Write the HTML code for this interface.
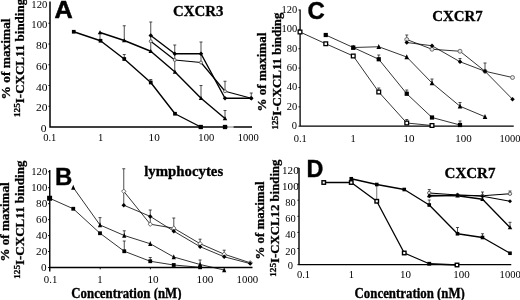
<!DOCTYPE html>
<html><head><meta charset="utf-8"><title>Figure</title>
<style>
html,body{margin:0;padding:0;background:#fff;}
body{width:520px;height:300px;overflow:hidden;}
svg{display:block;filter:blur(0.35px);}
text{fill:#000;}
</style></head><body>
<svg width="520" height="300" viewBox="0 0 520 300">
<rect width="520" height="300" fill="#fff"/>
<path d="M50 1.5V127H252" stroke="#000" stroke-width="1.5" fill="none"/>
<path d="M227.5 127H233.5" stroke="#fff" stroke-width="2.2" fill="none"/><path d="M227 127H234" stroke="#666" stroke-width="0.9" fill="none"/>
<text transform="translate(47.4,7.499999999999986) scale(1.07,1.0)" font-size="10" font-weight="normal" text-anchor="end" font-family='"Liberation Serif", serif' >120</text>
<text transform="translate(47.4,28.249999999999986) scale(1.07,1.0)" font-size="10" font-weight="normal" text-anchor="end" font-family='"Liberation Serif", serif' >100</text>
<text transform="translate(47.4,49.0) scale(1.15,1.0)" font-size="10" font-weight="normal" text-anchor="end" font-family='"Liberation Serif", serif' >80</text>
<text transform="translate(47.4,69.75) scale(1.15,1.0)" font-size="10" font-weight="normal" text-anchor="end" font-family='"Liberation Serif", serif' >60</text>
<text transform="translate(47.4,90.5) scale(1.15,1.0)" font-size="10" font-weight="normal" text-anchor="end" font-family='"Liberation Serif", serif' >40</text>
<text transform="translate(47.4,111.25) scale(1.15,1.0)" font-size="10" font-weight="normal" text-anchor="end" font-family='"Liberation Serif", serif' >20</text>
<text transform="translate(46.4,132.0) scale(1.15,1.0)" font-size="10" font-weight="normal" text-anchor="end" font-family='"Liberation Serif", serif' >0</text>
<text transform="translate(49.8,141) scale(1.06,1.0)" font-size="10" font-weight="normal" text-anchor="middle" font-family='"Liberation Serif", serif' >0.1</text>
<text transform="translate(100.7,141) scale(1.06,1.0)" font-size="10" font-weight="normal" text-anchor="middle" font-family='"Liberation Serif", serif' >1</text>
<text transform="translate(154.2,141) scale(1.12,1.0)" font-size="10" font-weight="normal" text-anchor="middle" font-family='"Liberation Serif", serif' >10</text>
<text transform="translate(206.3,141) scale(1.06,1.0)" font-size="10" font-weight="normal" text-anchor="middle" font-family='"Liberation Serif", serif' >100</text>
<text transform="translate(248.25,141) scale(1.06,1.0)" font-size="10" font-weight="normal" text-anchor="middle" font-family='"Liberation Serif", serif' >1000</text>
<path d="M48.3 23.25H50" stroke="#000" stroke-width="0.8"/>
<path d="M48.3 44.00H50" stroke="#000" stroke-width="0.8"/>
<path d="M48.3 64.75H50" stroke="#000" stroke-width="0.8"/>
<path d="M48.3 85.50H50" stroke="#000" stroke-width="0.8"/>
<path d="M48.3 106.25H50" stroke="#000" stroke-width="0.8"/>
<text transform="translate(10,99.5) rotate(-90) scale(1,1.0)" font-size="13.4" font-weight="bold" stroke="#000" stroke-width="0.3" font-family='"Liberation Serif", serif'>% of maximal</text>
<text transform="translate(23.5,117) rotate(-90) scale(1,1.0)" font-size="13.0" font-weight="bold" stroke="#000" stroke-width="0.3" font-family='"Liberation Serif", serif'><tspan font-size="9.2" dy="-3.6">125</tspan><tspan dy="3.6">I-CXCL11 binding</tspan></text>
<text transform="translate(54.6,18.2) scale(1.06,1.0)" font-size="23.8" font-weight="bold" text-anchor="start" font-family='"Liberation Sans", sans-serif' stroke="#000" stroke-width="0.55" stroke-linejoin="miter">A</text>
<text transform="translate(198.2,16) scale(1.02,1.0)" font-size="14.6" font-weight="bold" text-anchor="middle" font-family='"Liberation Serif", serif' stroke="#000" stroke-width="0.3">CXCR3</text>
<path d="M124.25 59.00V54.50M122.75 54.50H125.75" stroke="#222" stroke-width="0.8" fill="none"/>
<path d="M150.75 82.50V79.50M149.25 79.50H152.25" stroke="#222" stroke-width="0.8" fill="none"/>
<path d="M100.00 32.50V40.75M100.00 40.75H100.00" stroke="#222" stroke-width="0.8" fill="none"/>
<path d="M124.25 40.50V25.75M122.75 25.75H125.75" stroke="#222" stroke-width="0.8" fill="none"/>
<path d="M201.00 98.25V85.50M199.50 85.50H202.50" stroke="#222" stroke-width="0.8" fill="none"/>
<path d="M225.00 118.50V110.50M223.50 110.50H226.50" stroke="#222" stroke-width="0.8" fill="none"/>
<path d="M150.75 51.25V22.00M149.25 22.00H152.25" stroke="#222" stroke-width="0.8" fill="none"/>
<path d="M174.75 72.50V45.00M173.25 45.00H176.25" stroke="#222" stroke-width="0.8" fill="none"/>
<path d="M201.00 62.50V42.00M199.50 42.00H202.50" stroke="#222" stroke-width="0.8" fill="none"/>
<path d="M225.00 91.25V81.25M223.50 81.25H226.50" stroke="#222" stroke-width="0.8" fill="none"/>
<path d="M251.25 98.25V93.00M249.75 93.00H252.75" stroke="#222" stroke-width="0.8" fill="none"/>
<polyline points="150.75,41.25 174.75,60.00 201.00,62.50 225.00,91.25 251.25,98.25" fill="none" stroke="#000" stroke-width="1.2" stroke-linejoin="round"/>
<circle cx="150.75" cy="41.25" r="1.5" fill="#e8e8e8" stroke="#555" stroke-width="0.9"/>
<circle cx="174.75" cy="60.00" r="1.5" fill="#e8e8e8" stroke="#555" stroke-width="0.9"/>
<circle cx="201.00" cy="62.50" r="1.5" fill="#e8e8e8" stroke="#555" stroke-width="0.9"/>
<circle cx="225.00" cy="91.25" r="1.5" fill="#e8e8e8" stroke="#555" stroke-width="0.9"/>
<circle cx="251.25" cy="98.25" r="1.5" fill="#e8e8e8" stroke="#555" stroke-width="0.9"/>
<polyline points="150.75,35.50 174.75,53.75 201.00,53.75 225.00,98.25 251.25,98.25" fill="none" stroke="#000" stroke-width="1.4" stroke-linejoin="round"/>
<polygon points="150.75,33.25 153.00,35.50 150.75,37.75 148.50,35.50" fill="#000"/>
<polygon points="174.75,51.50 177.00,53.75 174.75,56.00 172.50,53.75" fill="#000"/>
<polygon points="201.00,51.50 203.25,53.75 201.00,56.00 198.75,53.75" fill="#000"/>
<polygon points="225.00,96.00 227.25,98.25 225.00,100.50 222.75,98.25" fill="#000"/>
<polygon points="251.25,96.00 253.50,98.25 251.25,100.50 249.00,98.25" fill="#000"/>
<polyline points="100.00,32.50 124.25,40.50 150.75,51.25 175.00,72.00 201.00,98.25 225.00,118.50" fill="none" stroke="#000" stroke-width="1.4" stroke-linejoin="round"/>
<polygon points="100.00,30.25 102.25,34.30 97.75,34.30" fill="#000"/>
<polygon points="124.25,38.25 126.50,42.30 122.00,42.30" fill="#000"/>
<polygon points="150.75,49.00 153.00,53.05 148.50,53.05" fill="#000"/>
<polygon points="175.00,69.75 177.25,73.80 172.75,73.80" fill="#000"/>
<polygon points="201.00,96.00 203.25,100.05 198.75,100.05" fill="#000"/>
<polygon points="225.00,116.25 227.25,120.30 222.75,120.30" fill="#000"/>
<polyline points="73.75,31.75 100.50,40.75 124.25,59.00 150.75,82.50 175.00,113.75 200.75,127.00" fill="none" stroke="#000" stroke-width="1.4" stroke-linejoin="round"/>
<rect x="71.90" y="29.90" width="3.7" height="3.7" fill="#000"/>
<rect x="98.65" y="38.90" width="3.7" height="3.7" fill="#000"/>
<rect x="122.40" y="57.15" width="3.7" height="3.7" fill="#000"/>
<rect x="148.90" y="80.65" width="3.7" height="3.7" fill="#000"/>
<rect x="173.15" y="111.90" width="3.7" height="3.7" fill="#000"/>
<rect x="198.60" y="124.85" width="4.3" height="4.3" fill="#000"/>
<rect x="222.85" y="124.85" width="4.3" height="4.3" fill="#000"/>
<path d="M300.1 9.5V126.2H513.75" stroke="#000" stroke-width="1.3" fill="none"/>
<text transform="translate(297.2,13.003999999999976) scale(1.05,1.0)" font-size="10" font-weight="normal" text-anchor="end" font-family='"Liberation Serif", serif' >120</text>
<text transform="translate(297.2,32.36999999999999) scale(1.05,1.0)" font-size="10" font-weight="normal" text-anchor="end" font-family='"Liberation Serif", serif' >100</text>
<text transform="translate(297.2,51.73599999999999) scale(1.05,1.0)" font-size="10" font-weight="normal" text-anchor="end" font-family='"Liberation Serif", serif' >80</text>
<text transform="translate(297.2,71.10199999999998) scale(1.05,1.0)" font-size="10" font-weight="normal" text-anchor="end" font-family='"Liberation Serif", serif' >60</text>
<text transform="translate(297.2,90.46799999999999) scale(1.05,1.0)" font-size="10" font-weight="normal" text-anchor="end" font-family='"Liberation Serif", serif' >40</text>
<text transform="translate(297.2,109.83399999999999) scale(1.05,1.0)" font-size="10" font-weight="normal" text-anchor="end" font-family='"Liberation Serif", serif' >20</text>
<text transform="translate(297.0,129.2) scale(1.05,1.0)" font-size="10" font-weight="normal" text-anchor="end" font-family='"Liberation Serif", serif' >0</text>
<text transform="translate(300.25,142) scale(1.05,1.0)" font-size="10" font-weight="normal" text-anchor="middle" font-family='"Liberation Serif", serif' >0.1</text>
<text transform="translate(353,142) scale(1.05,1.0)" font-size="10" font-weight="normal" text-anchor="middle" font-family='"Liberation Serif", serif' >1</text>
<text transform="translate(409,142) scale(1.1,1.0)" font-size="10" font-weight="normal" text-anchor="middle" font-family='"Liberation Serif", serif' >10</text>
<text transform="translate(463.4,142) scale(1.1,1.0)" font-size="10" font-weight="normal" text-anchor="middle" font-family='"Liberation Serif", serif' >100</text>
<text transform="translate(509.9,142) scale(1.05,1.0)" font-size="10" font-weight="normal" text-anchor="middle" font-family='"Liberation Serif", serif' >1000</text>
<path d="M298.4 10.00H300.1" stroke="#000" stroke-width="0.8"/>
<path d="M298.4 29.37H300.1" stroke="#000" stroke-width="0.8"/>
<path d="M298.4 48.74H300.1" stroke="#000" stroke-width="0.8"/>
<path d="M298.4 68.10H300.1" stroke="#000" stroke-width="0.8"/>
<path d="M298.4 87.47H300.1" stroke="#000" stroke-width="0.8"/>
<path d="M298.4 106.83H300.1" stroke="#000" stroke-width="0.8"/>
<path d="M298.4 126.20H300.1" stroke="#000" stroke-width="0.8"/>
<text transform="translate(265.5,111.4) rotate(-90) scale(1,1.0)" font-size="13.0" font-weight="bold" stroke="#000" stroke-width="0.3" font-family='"Liberation Serif", serif'>% of maximal</text>
<text transform="translate(281.3,129.6) rotate(-90) scale(1,1.0)" font-size="12.87" font-weight="bold" stroke="#000" stroke-width="0.3" font-family='"Liberation Serif", serif'><tspan font-size="9.2" dy="-3.6">125</tspan><tspan dy="3.6">I-CXCL11 binding</tspan></text>
<text transform="translate(307.6,18.6) scale(1.01,1.0)" font-size="23.8" font-weight="bold" text-anchor="start" font-family='"Liberation Sans", sans-serif' stroke="#000" stroke-width="0.4">C</text>
<text transform="translate(457.5,20.5) scale(1.02,1.0)" font-size="14.6" font-weight="bold" text-anchor="middle" font-family='"Liberation Serif", serif' stroke="#000" stroke-width="0.3">CXCR7</text>
<path d="M406.75 39.50V35.00M405.25 35.00H408.25" stroke="#222" stroke-width="0.8" fill="none"/>
<path d="M460.00 61.75V58.50M458.50 58.50H461.50" stroke="#222" stroke-width="0.8" fill="none"/>
<path d="M485.00 71.25V63.00M483.50 63.00H486.50" stroke="#222" stroke-width="0.8" fill="none"/>
<path d="M378.75 59.25V55.00M377.25 55.00H380.25" stroke="#222" stroke-width="0.8" fill="none"/>
<path d="M406.75 93.75V90.00M405.25 90.00H408.25" stroke="#222" stroke-width="0.8" fill="none"/>
<path d="M432.00 83.00V79.00M430.50 79.00H433.50" stroke="#222" stroke-width="0.8" fill="none"/>
<path d="M460.00 106.25V102.50M458.50 102.50H461.50" stroke="#222" stroke-width="0.8" fill="none"/>
<path d="M378.75 92.00V88.00M377.25 88.00H380.25" stroke="#222" stroke-width="0.8" fill="none"/>
<path d="M406.75 123.00V119.50M405.25 119.50H408.25" stroke="#222" stroke-width="0.8" fill="none"/>
<path d="M460.00 125.00V121.00M458.50 121.00H461.50" stroke="#222" stroke-width="0.8" fill="none"/>
<polyline points="406.75,39.50 432.00,49.25 460.00,51.25 485.00,71.25 512.50,77.50" fill="none" stroke="#000" stroke-width="0.8" stroke-linejoin="round"/>
<circle cx="406.75" cy="39.50" r="2.0" fill="#e4e4e4" stroke="#555" stroke-width="0.8"/>
<circle cx="432.00" cy="49.25" r="2.0" fill="#e4e4e4" stroke="#555" stroke-width="0.8"/>
<circle cx="460.00" cy="51.25" r="2.0" fill="#e4e4e4" stroke="#555" stroke-width="0.8"/>
<circle cx="485.00" cy="71.25" r="2.0" fill="#e4e4e4" stroke="#555" stroke-width="0.8"/>
<circle cx="512.50" cy="77.50" r="2.0" fill="#e4e4e4" stroke="#555" stroke-width="0.8"/>
<polyline points="406.75,42.50 432.00,45.75 460.00,61.75 485.00,71.25 512.50,99.25" fill="none" stroke="#000" stroke-width="0.8" stroke-linejoin="round"/>
<polygon points="406.75,40.25 409.00,42.50 406.75,44.75 404.50,42.50" fill="#000"/>
<polygon points="432.00,43.50 434.25,45.75 432.00,48.00 429.75,45.75" fill="#000"/>
<polygon points="460.00,59.50 462.25,61.75 460.00,64.00 457.75,61.75" fill="#000"/>
<polygon points="485.00,69.00 487.25,71.25 485.00,73.50 482.75,71.25" fill="#000"/>
<polygon points="512.50,97.00 514.75,99.25 512.50,101.50 510.25,99.25" fill="#000"/>
<polyline points="325.75,35.00 353.25,47.50 378.75,59.25 406.75,93.75 432.00,117.50 460.00,125.00" fill="none" stroke="#000" stroke-width="0.8" stroke-linejoin="round"/>
<rect x="323.65" y="32.90" width="4.2" height="4.2" fill="#000"/>
<rect x="351.15" y="45.40" width="4.2" height="4.2" fill="#000"/>
<rect x="376.65" y="57.15" width="4.2" height="4.2" fill="#000"/>
<rect x="404.65" y="91.65" width="4.2" height="4.2" fill="#000"/>
<rect x="429.90" y="115.40" width="4.2" height="4.2" fill="#000"/>
<rect x="457.90" y="122.90" width="4.2" height="4.2" fill="#000"/>
<polyline points="353.25,47.50 378.75,46.75 406.75,57.00 432.00,83.00 460.00,106.25 485.00,116.75" fill="none" stroke="#000" stroke-width="0.8" stroke-linejoin="round"/>
<polygon points="353.25,44.75 355.55,49.75 350.95,49.75" fill="#000"/>
<polygon points="378.75,44.00 381.05,49.00 376.45,49.00" fill="#000"/>
<polygon points="406.75,54.25 409.05,59.25 404.45,59.25" fill="#000"/>
<polygon points="432.00,80.25 434.30,85.25 429.70,85.25" fill="#000"/>
<polygon points="460.00,103.50 462.30,108.50 457.70,108.50" fill="#000"/>
<polygon points="485.00,114.00 487.30,119.00 482.70,119.00" fill="#000"/>
<polyline points="300.00,32.00 325.75,43.75 353.25,56.00 378.75,92.00 406.75,123.00 432.00,125.50" fill="none" stroke="#000" stroke-width="0.8" stroke-linejoin="round"/>
<rect x="298.15" y="30.15" width="3.7" height="3.7" fill="#fff" stroke="#000" stroke-width="1.3"/>
<rect x="323.90" y="41.90" width="3.7" height="3.7" fill="#fff" stroke="#000" stroke-width="1.3"/>
<rect x="351.40" y="54.15" width="3.7" height="3.7" fill="#fff" stroke="#000" stroke-width="1.3"/>
<rect x="376.90" y="90.15" width="3.7" height="3.7" fill="#fff" stroke="#000" stroke-width="1.3"/>
<rect x="404.90" y="121.15" width="3.7" height="3.7" fill="#fff" stroke="#000" stroke-width="1.3"/>
<rect x="430.15" y="123.65" width="3.7" height="3.7" fill="#fff" stroke="#000" stroke-width="1.3"/>
<path d="M49.75 170V271.5M49.75 267.5H252.5" stroke="#000" stroke-width="1.4" fill="none"/>
<text transform="translate(47.3,175.04000000000002) scale(1.07,1.0)" font-size="10" font-weight="normal" text-anchor="end" font-family='"Liberation Serif", serif' >120</text>
<path d="M48 171.74H49.75" stroke="#000" stroke-width="0.9"/>
<text transform="translate(47.3,191.0) scale(1.07,1.0)" font-size="10" font-weight="normal" text-anchor="end" font-family='"Liberation Serif", serif' >100</text>
<path d="M48 187.70H49.75" stroke="#000" stroke-width="0.9"/>
<text transform="translate(47.3,206.96) scale(1.12,1.0)" font-size="10" font-weight="normal" text-anchor="end" font-family='"Liberation Serif", serif' >80</text>
<path d="M48 203.66H49.75" stroke="#000" stroke-width="0.9"/>
<text transform="translate(47.3,222.92000000000002) scale(1.12,1.0)" font-size="10" font-weight="normal" text-anchor="end" font-family='"Liberation Serif", serif' >60</text>
<path d="M48 219.62H49.75" stroke="#000" stroke-width="0.9"/>
<text transform="translate(47.3,238.88) scale(1.12,1.0)" font-size="10" font-weight="normal" text-anchor="end" font-family='"Liberation Serif", serif' >40</text>
<path d="M48 235.58H49.75" stroke="#000" stroke-width="0.9"/>
<text transform="translate(47.3,254.84) scale(1.12,1.0)" font-size="10" font-weight="normal" text-anchor="end" font-family='"Liberation Serif", serif' >20</text>
<path d="M48 251.54H49.75" stroke="#000" stroke-width="0.9"/>
<text transform="translate(46.6,270.8) scale(1.12,1.0)" font-size="10" font-weight="normal" text-anchor="end" font-family='"Liberation Serif", serif' >0</text>
<path d="M48 267.50H49.75" stroke="#000" stroke-width="0.9"/>
<text transform="translate(50.6,283) scale(1.08,1.0)" font-size="10" font-weight="normal" text-anchor="middle" font-family='"Liberation Serif", serif' >0.1</text>
<text transform="translate(100.0,283) scale(1.08,1.0)" font-size="10" font-weight="normal" text-anchor="middle" font-family='"Liberation Serif", serif' >1</text>
<text transform="translate(153.1,283) scale(1.12,1.0)" font-size="10" font-weight="normal" text-anchor="middle" font-family='"Liberation Serif", serif' >10</text>
<text transform="translate(205,283) scale(1.12,1.0)" font-size="10" font-weight="normal" text-anchor="middle" font-family='"Liberation Serif", serif' >100</text>
<text transform="translate(247.4,283) scale(1.08,1.0)" font-size="10" font-weight="normal" text-anchor="middle" font-family='"Liberation Serif", serif' >1000</text>
<path d="M100.2 267.5V269.3" stroke="#000" stroke-width="0.9"/>
<path d="M150.4 267.5V269.3" stroke="#000" stroke-width="0.9"/>
<text transform="translate(8.7,261.6) rotate(-90) scale(1,1.0)" font-size="13.1" font-weight="bold" stroke="#000" stroke-width="0.3" font-family='"Liberation Serif", serif'>% of maximal</text>
<text transform="translate(23.5,278.8) rotate(-90) scale(1,1.0)" font-size="13.0" font-weight="bold" stroke="#000" stroke-width="0.3" font-family='"Liberation Serif", serif'><tspan font-size="9.2" dy="-3.6">125</tspan><tspan dy="3.6">I-CXCL11 binding</tspan></text>
<text transform="translate(55.0,185.2) scale(0.97,1.0)" font-size="24.7" font-weight="bold" text-anchor="start" font-family='"Liberation Sans", sans-serif' stroke="#000" stroke-width="0.4">B</text>
<text transform="translate(183.7,176) scale(1.0,1.0)" font-size="14.8" font-weight="bold" text-anchor="middle" font-family='"Liberation Serif", serif' stroke="#000" stroke-width="0.3">lymphocytes</text>
<text transform="translate(126.4,297.6) scale(1.0,1.06)" font-size="12.85" font-weight="bold" text-anchor="middle" font-family='"Liberation Serif", serif' stroke="#000" stroke-width="0.3">Concentration (nM)</text>
<path d="M123.75 205.00V168.75M122.25 168.75H125.25" stroke="#222" stroke-width="0.8" fill="none"/>
<path d="M150.25 224.00V210.00M148.75 210.00H151.75" stroke="#222" stroke-width="0.8" fill="none"/>
<path d="M173.80 228.00V218.00M172.30 218.00H175.30" stroke="#222" stroke-width="0.8" fill="none"/>
<path d="M200.10 243.00V239.20M198.60 239.20H201.60" stroke="#222" stroke-width="0.8" fill="none"/>
<path d="M224.20 254.00V250.20M222.70 250.20H225.70" stroke="#222" stroke-width="0.8" fill="none"/>
<path d="M100.00 225.00V217.60M98.50 217.60H101.50" stroke="#222" stroke-width="0.8" fill="none"/>
<path d="M124.25 235.50V230.80M122.75 230.80H125.75" stroke="#222" stroke-width="0.8" fill="none"/>
<path d="M124.25 251.25V241.00M122.75 241.00H125.75" stroke="#222" stroke-width="0.8" fill="none"/>
<path d="M150.25 261.25V257.50M148.75 257.50H151.75" stroke="#222" stroke-width="0.8" fill="none"/>
<path d="M200.10 263.75V260.00M198.60 260.00H201.60" stroke="#222" stroke-width="0.8" fill="none"/>
<polyline points="123.75,191.25 150.25,224.20 173.80,228.20 200.10,243.70 224.20,254.20 250.20,262.80" fill="none" stroke="#000" stroke-width="0.8" stroke-linejoin="round"/>
<polygon points="123.75,189.05 125.95,191.25 123.75,193.45 121.55,191.25" fill="#fff" stroke="#444" stroke-width="0.8"/>
<polygon points="150.25,222.00 152.45,224.20 150.25,226.40 148.05,224.20" fill="#fff" stroke="#444" stroke-width="0.8"/>
<polygon points="173.80,226.00 176.00,228.20 173.80,230.40 171.60,228.20" fill="#fff" stroke="#444" stroke-width="0.8"/>
<polygon points="200.10,241.50 202.30,243.70 200.10,245.90 197.90,243.70" fill="#fff" stroke="#444" stroke-width="0.8"/>
<polygon points="224.20,252.00 226.40,254.20 224.20,256.40 222.00,254.20" fill="#fff" stroke="#444" stroke-width="0.8"/>
<polygon points="250.20,260.60 252.40,262.80 250.20,265.00 248.00,262.80" fill="#fff" stroke="#444" stroke-width="0.8"/>
<polyline points="123.75,205.20 150.25,216.40 173.80,231.20 200.10,246.70 224.20,256.80 250.20,263.60" fill="none" stroke="#000" stroke-width="0.8" stroke-linejoin="round"/>
<polygon points="123.75,202.95 126.00,205.20 123.75,207.45 121.50,205.20" fill="#000"/>
<polygon points="150.25,214.15 152.50,216.40 150.25,218.65 148.00,216.40" fill="#000"/>
<polygon points="173.80,228.95 176.05,231.20 173.80,233.45 171.55,231.20" fill="#000"/>
<polygon points="200.10,244.45 202.35,246.70 200.10,248.95 197.85,246.70" fill="#000"/>
<polygon points="224.20,254.55 226.45,256.80 224.20,259.05 221.95,256.80" fill="#000"/>
<polygon points="250.20,261.35 252.45,263.60 250.20,265.85 247.95,263.60" fill="#000"/>
<polyline points="73.25,187.50 100.00,225.00 124.25,235.50 150.25,243.75 173.75,257.00 200.10,264.50 224.20,270.00" fill="none" stroke="#000" stroke-width="0.8" stroke-linejoin="round"/>
<polygon points="73.25,184.86 75.35,189.66 71.15,189.66" fill="#000"/>
<polygon points="100.00,222.36 102.10,227.16 97.90,227.16" fill="#000"/>
<polygon points="124.25,232.86 126.35,237.66 122.15,237.66" fill="#000"/>
<polygon points="150.25,241.11 152.35,245.91 148.15,245.91" fill="#000"/>
<polygon points="173.75,254.36 175.85,259.16 171.65,259.16" fill="#000"/>
<polygon points="200.10,261.86 202.20,266.66 198.00,266.66" fill="#000"/>
<polygon points="224.20,267.36 226.30,272.16 222.10,272.16" fill="#000"/>
<polyline points="49.60,198.25 73.25,208.75 100.00,233.25 124.25,251.25 150.25,261.25 173.75,265.00 200.10,267.30" fill="none" stroke="#000" stroke-width="0.8" stroke-linejoin="round"/>
<rect x="47.10" y="195.75" width="5" height="5" fill="#000"/>
<rect x="71.35" y="206.85" width="3.8" height="3.8" fill="#000"/>
<rect x="98.10" y="231.35" width="3.8" height="3.8" fill="#000"/>
<rect x="122.35" y="249.35" width="3.8" height="3.8" fill="#000"/>
<rect x="148.35" y="259.35" width="3.8" height="3.8" fill="#000"/>
<rect x="171.85" y="263.10" width="3.8" height="3.8" fill="#000"/>
<rect x="198.20" y="265.40" width="3.8" height="3.8" fill="#000"/>
<path d="M299 168V264.6H511.25" stroke="#000" stroke-width="1.4" fill="none"/>
<text transform="translate(298.7,174.0) scale(1.11,1.0)" font-size="10" font-weight="normal" text-anchor="end" font-family='"Liberation Serif", serif' >120</text>
<text transform="translate(298.7,190.10000000000002) scale(1.11,1.0)" font-size="10" font-weight="normal" text-anchor="end" font-family='"Liberation Serif", serif' >100</text>
<text transform="translate(295.8,206.20000000000002) scale(1.05,1.0)" font-size="10" font-weight="normal" text-anchor="end" font-family='"Liberation Serif", serif' >80</text>
<text transform="translate(295.8,222.3) scale(1.05,1.0)" font-size="10" font-weight="normal" text-anchor="end" font-family='"Liberation Serif", serif' >60</text>
<text transform="translate(295.8,238.40000000000003) scale(1.05,1.0)" font-size="10" font-weight="normal" text-anchor="end" font-family='"Liberation Serif", serif' >40</text>
<text transform="translate(295.8,254.50000000000003) scale(1.05,1.0)" font-size="10" font-weight="normal" text-anchor="end" font-family='"Liberation Serif", serif' >20</text>
<text transform="translate(293.0,269.2) scale(1.05,1.0)" font-size="10" font-weight="normal" text-anchor="end" font-family='"Liberation Serif", serif' >0</text>
<text transform="translate(303.5,278) scale(1.06,1.0)" font-size="10" font-weight="normal" text-anchor="middle" font-family='"Liberation Serif", serif' >0.1</text>
<text transform="translate(351.4,278) scale(1.06,1.0)" font-size="10" font-weight="normal" text-anchor="middle" font-family='"Liberation Serif", serif' >1</text>
<text transform="translate(405.5,278) scale(1.1,1.0)" font-size="10" font-weight="normal" text-anchor="middle" font-family='"Liberation Serif", serif' >10</text>
<text transform="translate(461.6,278) scale(1.1,1.0)" font-size="10" font-weight="normal" text-anchor="middle" font-family='"Liberation Serif", serif' >100</text>
<text transform="translate(510.2,278) scale(1.06,1.0)" font-size="10" font-weight="normal" text-anchor="middle" font-family='"Liberation Serif", serif' >1000</text>
<path d="M297.3 168.00H299" stroke="#000" stroke-width="0.8"/>
<path d="M297.3 184.10H299" stroke="#000" stroke-width="0.8"/>
<path d="M297.3 200.20H299" stroke="#000" stroke-width="0.8"/>
<path d="M297.3 216.30H299" stroke="#000" stroke-width="0.8"/>
<path d="M297.3 232.40H299" stroke="#000" stroke-width="0.8"/>
<path d="M297.3 248.50H299" stroke="#000" stroke-width="0.8"/>
<path d="M297.3 264.60H299" stroke="#000" stroke-width="0.8"/>
<text transform="translate(264.2,259.5) rotate(-90) scale(1,1.0)" font-size="12.9" font-weight="bold" stroke="#000" stroke-width="0.3" font-family='"Liberation Serif", serif'>% of maximal</text>
<text transform="translate(279.3,276.8) rotate(-90) scale(1,1.0)" font-size="12.8" font-weight="bold" stroke="#000" stroke-width="0.3" font-family='"Liberation Serif", serif'><tspan font-size="9.2" dy="-3.6">125</tspan><tspan dy="3.6">I-CXCL12 binding</tspan></text>
<text transform="translate(306.5,176.9) scale(0.98,1.0)" font-size="23.8" font-weight="bold" text-anchor="start" font-family='"Liberation Sans", sans-serif' stroke="#000" stroke-width="0.4">D</text>
<text transform="translate(470,178) scale(1.03,1.0)" font-size="14.6" font-weight="bold" text-anchor="middle" font-family='"Liberation Serif", serif' stroke="#000" stroke-width="0.3">CXCR7</text>
<text transform="translate(409.7,297.6) scale(1.0,1.06)" font-size="12.85" font-weight="bold" text-anchor="middle" font-family='"Liberation Serif", serif' stroke="#000" stroke-width="0.3">Concentration (nM)</text>
<path d="M376.75 201.25V184.50M376.75 184.50H376.75" stroke="#555" stroke-width="0.8" fill="none"/>
<path d="M429.25 205.00V200.00M427.75 200.00H430.75" stroke="#222" stroke-width="0.8" fill="none"/>
<path d="M457.50 233.75V227.50M456.00 227.50H459.00" stroke="#222" stroke-width="0.8" fill="none"/>
<path d="M482.50 237.50V233.75M481.00 233.75H484.00" stroke="#222" stroke-width="0.8" fill="none"/>
<path d="M510.00 227.50V222.30M508.50 222.30H511.50" stroke="#222" stroke-width="0.8" fill="none"/>
<path d="M429.25 193.00V189.50M427.75 189.50H430.75" stroke="#222" stroke-width="0.8" fill="none"/>
<path d="M482.50 195.75V192.00M481.00 192.00H484.00" stroke="#222" stroke-width="0.8" fill="none"/>
<path d="M510.00 193.75V191.00M508.50 191.00H511.50" stroke="#222" stroke-width="0.8" fill="none"/>
<polyline points="429.25,193.00 457.50,195.00 482.50,195.75 510.00,193.75" fill="none" stroke="#000" stroke-width="1.15" stroke-linejoin="round"/>
<circle cx="429.25" cy="193.00" r="1.7" fill="#e4e4e4" stroke="#444" stroke-width="0.8"/>
<circle cx="457.50" cy="195.00" r="1.7" fill="#e4e4e4" stroke="#444" stroke-width="0.8"/>
<circle cx="482.50" cy="195.75" r="1.7" fill="#e4e4e4" stroke="#444" stroke-width="0.8"/>
<circle cx="510.00" cy="193.75" r="1.7" fill="#e4e4e4" stroke="#444" stroke-width="0.8"/>
<polyline points="429.25,196.25 457.50,195.00 482.50,196.25 510.00,201.25" fill="none" stroke="#000" stroke-width="1.2" stroke-linejoin="round"/>
<polygon points="429.25,194.25 431.25,196.25 429.25,198.25 427.25,196.25" fill="#000"/>
<polygon points="457.50,193.00 459.50,195.00 457.50,197.00 455.50,195.00" fill="#000"/>
<polygon points="482.50,194.25 484.50,196.25 482.50,198.25 480.50,196.25" fill="#000"/>
<polygon points="510.00,199.25 512.00,201.25 510.00,203.25 508.00,201.25" fill="#000"/>
<polyline points="429.25,195.50 457.50,195.75 482.50,199.25 510.00,227.50" fill="none" stroke="#000" stroke-width="1.3" stroke-linejoin="round"/>
<polygon points="429.25,193.25 431.50,197.30 427.00,197.30" fill="#000"/>
<polygon points="457.50,193.50 459.75,197.55 455.25,197.55" fill="#000"/>
<polygon points="482.50,197.00 484.75,201.05 480.25,201.05" fill="#000"/>
<polygon points="510.00,225.25 512.25,229.30 507.75,229.30" fill="#000"/>
<polyline points="351.25,178.75 376.75,184.50 404.25,189.50 429.25,205.00 457.50,233.75 482.50,237.50 510.00,253.25" fill="none" stroke="#000" stroke-width="1.3" stroke-linejoin="round"/>
<rect x="349.45" y="176.95" width="3.6" height="3.6" fill="#000"/>
<rect x="374.95" y="182.70" width="3.6" height="3.6" fill="#000"/>
<rect x="402.45" y="187.70" width="3.6" height="3.6" fill="#000"/>
<rect x="427.45" y="203.20" width="3.6" height="3.6" fill="#000"/>
<rect x="455.70" y="231.95" width="3.6" height="3.6" fill="#000"/>
<rect x="480.70" y="235.70" width="3.6" height="3.6" fill="#000"/>
<rect x="508.20" y="251.45" width="3.6" height="3.6" fill="#000"/>
<polyline points="323.75,182.50 351.25,182.50 376.75,201.25 404.25,253.00 429.25,263.75 457.00,265.00" fill="none" stroke="#000" stroke-width="1.3" stroke-linejoin="round"/>
<rect x="322.00" y="180.75" width="3.5" height="3.5" fill="#fff" stroke="#000" stroke-width="1.4"/>
<rect x="349.50" y="180.75" width="3.5" height="3.5" fill="#fff" stroke="#000" stroke-width="1.4"/>
<rect x="375.00" y="199.50" width="3.5" height="3.5" fill="#fff" stroke="#000" stroke-width="1.4"/>
<rect x="402.50" y="251.25" width="3.5" height="3.5" fill="#fff" stroke="#000" stroke-width="1.4"/>
<rect x="427.35" y="261.85" width="3.8" height="3.8" fill="#000"/>
<rect x="455.25" y="263.25" width="3.5" height="3.5" fill="#fff" stroke="#000" stroke-width="1.4"/>
</svg>
</body></html>
